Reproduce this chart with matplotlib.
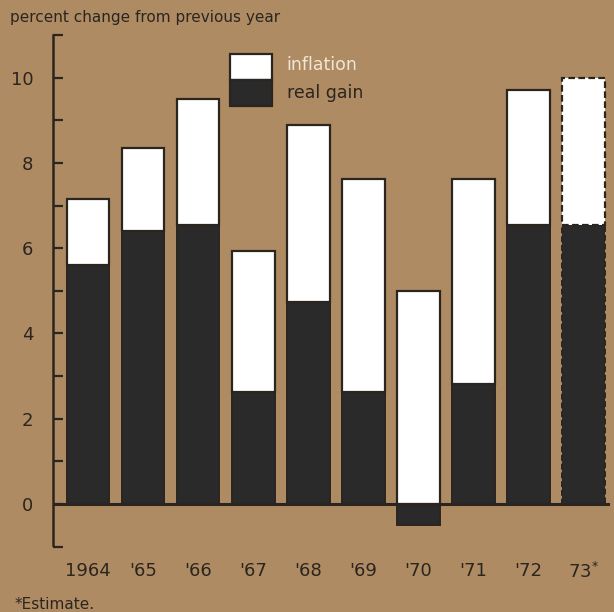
import matplotlib
matplotlib.use("Agg")
import matplotlib.pyplot as plt
from matplotlib.patches import Rectangle
import numpy as np

# GNP growth: real gain and total (nominal) change, percent from previous year
years = ["1964", "'65", "'66", "'67", "'68", "'69", "'70", "'71", "'72", r"73$^{*}$"]
real_gain = [5.6, 6.4, 6.55, 2.63, 4.74, 2.63, -0.5, 2.82, 6.55, 6.55]
total_change = [7.15, 8.35, 9.5, 5.93, 8.88, 7.63, 5.0, 7.63, 9.72, 10.0]
estimated = [False] * 9 + [True]

bg = "#af8b63"
dark = "#2a2a2a"
ink = "#2b2520"

plt.rcParams["font.family"] = ["DejaVu Sans"]

fig = plt.figure(figsize=(6.14, 6.12), dpi=100, facecolor=bg)
ax = fig.add_axes([0.0863, 0.0997, 0.9137, 0.8572], facecolor=bg)

x = np.arange(len(years))
width = 0.78
for xi, r, t, est in zip(x, real_gain, total_change, estimated):
    ls = (0, (3, 1.5)) if est else "-"
    # real gain part (can be negative)
    ax.bar(xi, r, width=width, bottom=0, color=dark, edgecolor=ink,
           linewidth=1.4, linestyle=ls, zorder=2)
    # inflation part sits on top of real gain
    base = max(r, 0)
    ax.bar(xi, t - base, width=width, bottom=base, color="white",
           edgecolor=ink, linewidth=1.6, linestyle=ls, zorder=2)

ax.axhline(0, xmin=0, xmax=0.99, color=ink, linewidth=2.2, zorder=3)

ax.set_xlim(-0.636, 9.56)
ax.set_ylim(-1.1, 11.2)

for s in ["top", "right", "bottom"]:
    ax.spines[s].set_visible(False)
ax.spines["left"].set_color(ink)
ax.spines["left"].set_linewidth(1.8)
ax.spines["left"].set_bounds(-0.95, 11.0)

ax.set_yticks(np.arange(-1, 12, 1))
ax.set_yticklabels(["" if (v % 2 or v < 0) else str(v) for v in range(-1, 12)],
                   fontsize=13, color=ink)
ax.tick_params(axis="y", direction="in", length=7, width=1.6, color=ink, pad=14)

ax.set_xticks(x)
ax.set_xticklabels(years, fontsize=13, color=ink)
ax.tick_params(axis="x", length=0, pad=8)

# legend swatch: inflation over real gain
tf = fig.transFigure
fig.patches.append(Rectangle((0.3746, 0.8693), 0.0684, 0.0425, transform=tf,
                             facecolor="white", edgecolor=ink, linewidth=1.6))
fig.patches.append(Rectangle((0.3746, 0.8268), 0.0684, 0.0425, transform=tf,
                             facecolor=dark, edgecolor=ink, linewidth=1.6))
fig.text(0.467, 0.893, "inflation", fontsize=12.5, color="#f0e6d6", va="center")
fig.text(0.467, 0.848, "real gain", fontsize=12.5, color=ink, va="center")

fig.text(0.016, 0.971, "percent change from previous year", fontsize=11,
         color=ink, va="center")
fig.text(0.024, 0.012, "*Estimate.", fontsize=11, color=ink, va="center")

fig.savefig("out.png", dpi=100, facecolor=bg)
